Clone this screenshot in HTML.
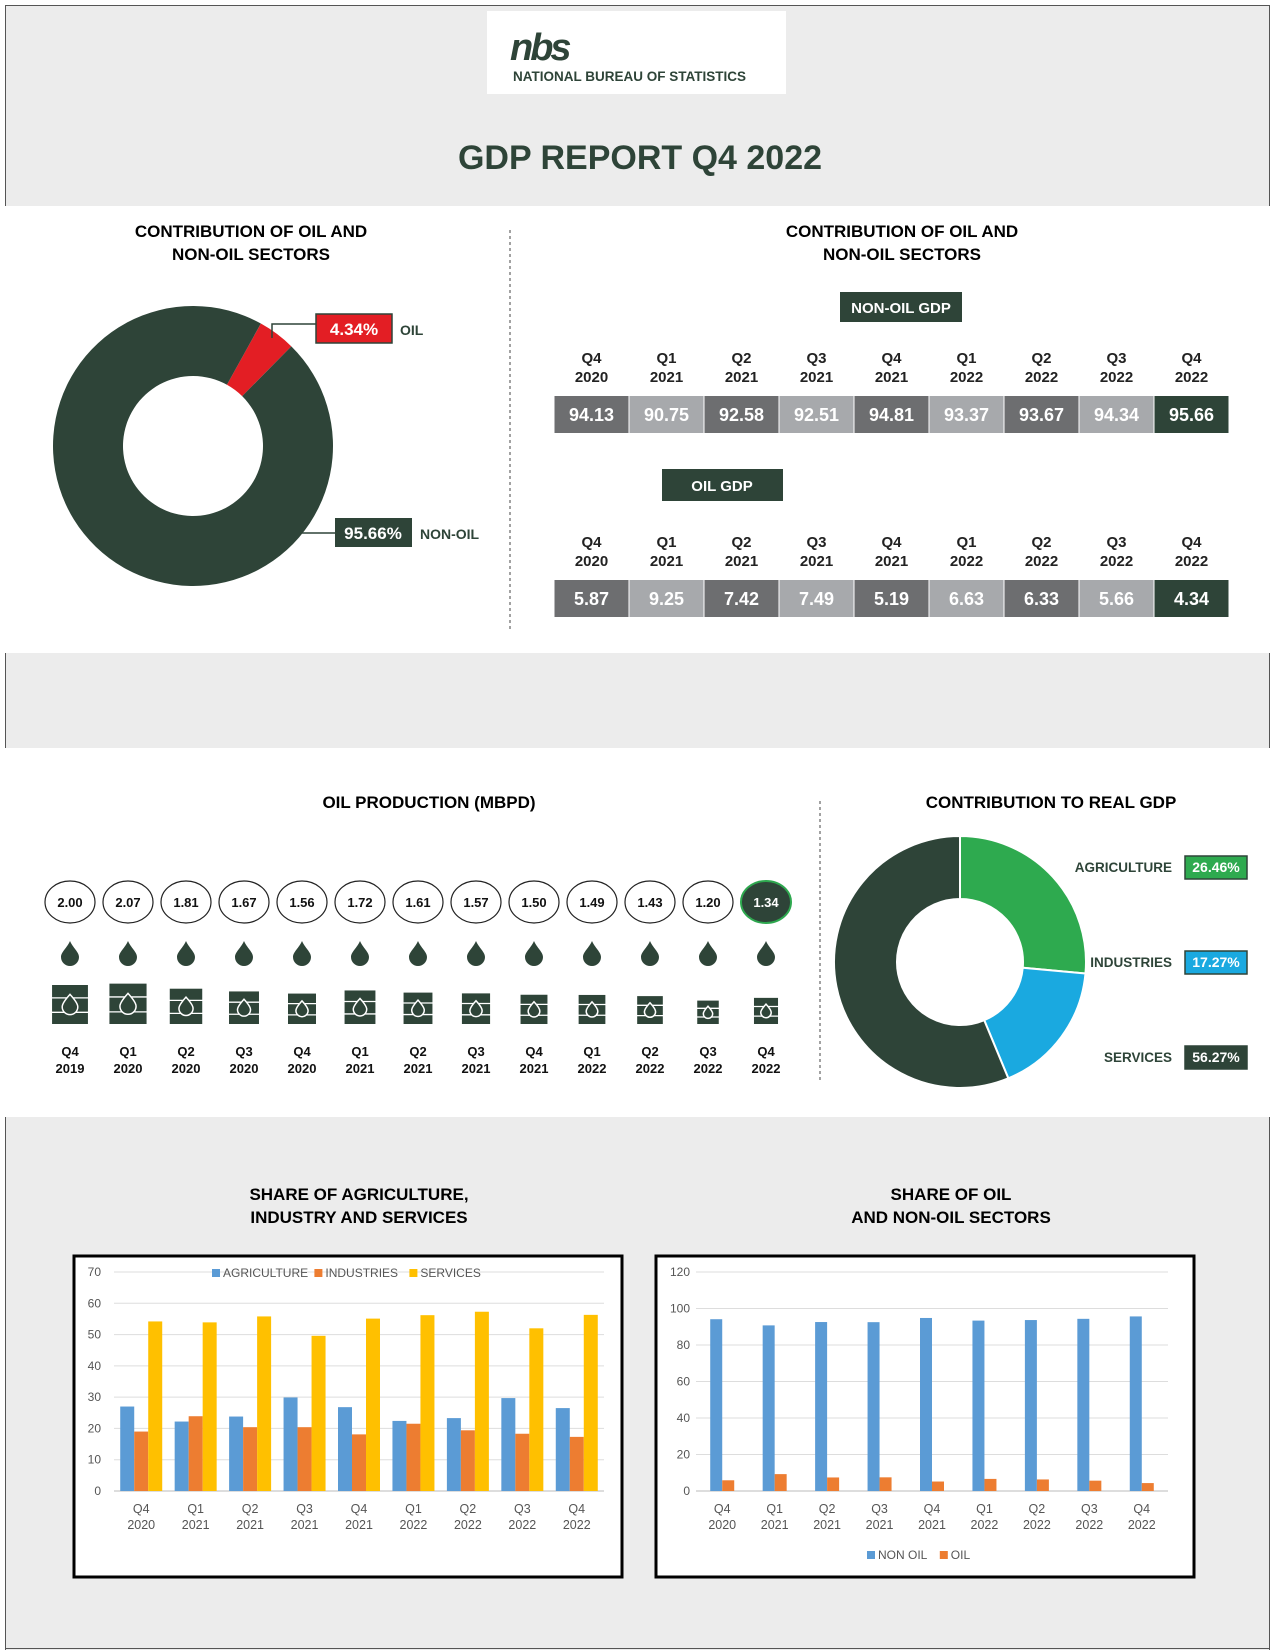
<!DOCTYPE html>
<html><head><meta charset="utf-8">
<style>
html,body{margin:0;padding:0;background:#fff;}
svg{display:block;font-family:"Liberation Sans",sans-serif;}
.b{font-weight:bold;}
</style></head>
<body>
<svg id="root" width="1275" height="1650" viewBox="0 0 1275 1650" xmlns="http://www.w3.org/2000/svg">
<!-- header band -->
<rect x="5" y="5" width="1265" height="201" fill="#ececec"/>
<line x1="5.5" y1="5" x2="5.5" y2="206" stroke="#555"/>
<line x1="1269.5" y1="5" x2="1269.5" y2="206" stroke="#555"/>
<line x1="5" y1="5.5" x2="1270" y2="5.5" stroke="#555"/>
<rect x="487" y="11" width="299" height="83" fill="#fff"/>
<g>
<text x="510" y="60" font-size="38" font-weight="bold" fill="#2e4438" font-style="italic" letter-spacing="-3">nbs</text>
<text x="513" y="81" font-size="13.5" font-weight="bold" fill="#2e4438">NATIONAL BUREAU OF STATISTICS</text>
</g>
<text x="640" y="169" font-size="34" font-weight="bold" fill="#2e4438" text-anchor="middle">GDP REPORT Q4 2022</text>

<!-- section 1 -->
<g>
<text x="251" y="237" font-size="17" class="b" text-anchor="middle">CONTRIBUTION OF OIL AND</text>
<text x="251" y="260" font-size="17" class="b" text-anchor="middle">NON-OIL SECTORS</text>
</g>
<line x1="510" y1="230" x2="510" y2="630" stroke="#444" stroke-dasharray="3,3"/>
<g id="donut1"></g>
<g>
<polyline points="272,338 272,324 316,324" fill="none" stroke="#2e4438" stroke-width="1.5"/>
<rect x="316" y="314" width="76" height="29" fill="#e31e24" stroke="#2e4438" stroke-width="1.5"/>
<text x="354" y="335" font-size="17" class="b" fill="#fff" text-anchor="middle">4.34%</text>
<text x="400" y="335" font-size="14" class="b" fill="#2e4438">OIL</text>
</g>
<g>
<line x1="297" y1="533" x2="335" y2="533" stroke="#2e4438" stroke-width="1.5"/>
<rect x="335" y="518" width="77" height="29" fill="#2e4438"/>
<text x="373" y="539" font-size="17" class="b" fill="#fff" text-anchor="middle">95.66%</text>
<text x="420" y="539" font-size="14" class="b" fill="#2e4438">NON-OIL</text>
</g>

<g>
<text x="902" y="237" font-size="17" class="b" text-anchor="middle">CONTRIBUTION OF OIL AND</text>
<text x="902" y="260" font-size="17" class="b" text-anchor="middle">NON-OIL SECTORS</text>
</g>
<g>
<rect x="840" y="292" width="122" height="30" fill="#2e4438"/>
<text x="901" y="313" font-size="15" class="b" fill="#fff" text-anchor="middle">NON-OIL GDP</text>
</g>
<g id="table1"></g>
<g>
<rect x="662" y="469" width="121" height="32" fill="#2e4438"/>
<text x="722" y="491" font-size="15" class="b" fill="#fff" text-anchor="middle">OIL GDP</text>
</g>
<g id="table2"></g>

<!-- gray band -->
<rect x="5" y="653" width="1265" height="95" fill="#ececec"/>
<line x1="5.5" y1="653" x2="5.5" y2="748" stroke="#555"/>
<line x1="1269.5" y1="653" x2="1269.5" y2="748" stroke="#555"/>

<!-- section 2 -->
<text x="429" y="808" font-size="17" class="b" text-anchor="middle">OIL PRODUCTION (MBPD)</text>
<line x1="820" y1="801" x2="820" y2="1080" stroke="#444" stroke-dasharray="3,3"/>
<g id="prod"></g>
<text x="1051" y="808" font-size="17" class="b" text-anchor="middle">CONTRIBUTION TO REAL GDP</text>
<g id="donut2"></g>
<g id="donut2labels"></g>

<!-- section 3 -->
<rect x="5" y="1117" width="1265" height="533" fill="#ececec"/>
<line x1="5.5" y1="1117" x2="5.5" y2="1650" stroke="#555"/>
<line x1="1269.5" y1="1117" x2="1269.5" y2="1650" stroke="#555"/>
<line x1="5" y1="1648.5" x2="1270" y2="1648.5" stroke="#555"/>
<g>
<text x="359" y="1200" font-size="17" class="b" text-anchor="middle">SHARE OF AGRICULTURE,</text>
<text x="359" y="1223" font-size="17" class="b" text-anchor="middle">INDUSTRY AND SERVICES</text>
</g>
<g>
<text x="951" y="1200" font-size="17" class="b" text-anchor="middle">SHARE OF OIL</text>
<text x="951" y="1223" font-size="17" class="b" text-anchor="middle">AND NON-OIL SECTORS</text>
</g>
<rect x="74" y="1256" width="548" height="321" fill="#fff" stroke="#000" stroke-width="3"/>
<rect x="656" y="1256" width="538" height="321" fill="#fff" stroke="#000" stroke-width="3"/>
<g id="chart3"></g>
<g id="chart4"></g>
</svg>
<script>
const NS="http://www.w3.org/2000/svg";
// ---- data ----
const quarters9=["Q4 2020","Q1 2021","Q2 2021","Q3 2021","Q4 2021","Q1 2022","Q2 2022","Q3 2022","Q4 2022"];
const nonOilGdp=[94.13,90.75,92.58,92.51,94.81,93.37,93.67,94.34,95.66];
const oilGdp=[5.87,9.25,7.42,7.49,5.19,6.63,6.33,5.66,4.34];
const oilShareLatest=[4.34,95.66];
const prodQuarters=["Q4 2019","Q1 2020","Q2 2020","Q3 2020","Q4 2020","Q1 2021","Q2 2021","Q3 2021","Q4 2021","Q1 2022","Q2 2022","Q3 2022","Q4 2022"];
const prodValues=[2.00,2.07,1.81,1.67,1.56,1.72,1.61,1.57,1.50,1.49,1.43,1.20,1.34];
const sectorNames=["AGRICULTURE","INDUSTRIES","SERVICES"];
const sectorShares=[26.46,17.27,56.27];
const agriculture=[27.0,22.2,23.8,29.9,26.8,22.4,23.3,29.7,26.5];
const industries=[19.0,23.9,20.4,20.4,18.1,21.5,19.4,18.3,17.3];
const services=[54.2,53.9,55.8,49.6,55.1,56.2,57.3,52.0,56.3];
const ticks3=[0,10,20,30,40,50,60,70];
const ticks4=[0,20,40,60,80,100,120];

function mk(tag,attrs,parent,txt){const e=document.createElementNS(NS,tag);for(const k in attrs)e.setAttribute(k,attrs[k]);if(txt!==undefined)e.textContent=txt;parent.appendChild(e);return e;}
function arcPath(cx,cy,r0,r1,a0,a1){
 const p=(r,a)=>[cx+r*Math.sin(a*Math.PI/180),cy-r*Math.cos(a*Math.PI/180)];
 const L=(a1-a0)>180?1:0;const A=p(r1,a0),B=p(r1,a1),C=p(r0,a1),D=p(r0,a0);
 return `M${A}A${r1},${r1} 0 ${L} 1 ${B}L${C}A${r0},${r0} 0 ${L} 0 ${D}Z`;}

// donut 1
(function(){const g=document.getElementById('donut1');const cols=["#e31e24","#2e4438"];
 let a=29;const tot=oilShareLatest.reduce((s,v)=>s+v,0);
 oilShareLatest.forEach((v,i)=>{const span=v/tot*360;const e=mk('path',{d:arcPath(193,446,70,140,a,a+span-0.01),fill:cols[i]},g);
 
 a+=span;});})();

// tables
function table(id,vals,hy,cy){const g=document.getElementById(id);const x0=554,w=75;
 vals.forEach((v,i)=>{const x=x0+i*w;const q=quarters9[i].split(' ');
 const t=mk('text',{x:x+w/2,y:hy,'font-size':15,'font-weight':'bold','text-anchor':'middle',fill:'#222'},g);
 
 
 mk('tspan',{x:x+w/2},t,q[0]);mk('tspan',{x:x+w/2,dy:19},t,q[1]);
 const fill=i==vals.length-1?'#2e4438':(i%2==0?'#6d6e70':'#a7a9ac');
 const r=mk('rect',{x:x+0.5,y:cy,width:w-1,height:37,fill:fill},g);
 
 
 const tv=mk('text',{x:x+w/2,y:cy+25,'font-size':18,'font-weight':'bold','text-anchor':'middle',fill:'#fff'},g,v.toFixed(2));
 
 });}
table('table1',nonOilGdp,363,396);
table('table2',oilGdp,547,580);

// production
(function(){const g=document.getElementById('prod');const xs0=70,dx=58.0;
 prodValues.forEach((v,i)=>{const cx=xs0+i*dx;const last=i==prodValues.length-1;
 const c=mk('ellipse',{cx:cx,cy:902,rx:25,ry:21,fill:last?'#2e4438':'#fff',stroke:last?'#2ea84f':'#222','stroke-width':last?2:1.2},g);
 
 
 const t=mk('text',{x:cx,y:907,'font-size':13,'font-weight':'bold','text-anchor':'middle',fill:last?'#fff':'#111'},g,v.toFixed(2));
 
 
 const d=mk('path',{d:`M${cx},941 C${cx+3},948 ${cx+9},952 ${cx+9},957 A9,9 0 0 1 ${cx-9},957 C${cx-9},952 ${cx-3},948 ${cx},941Z`,fill:'#2e4438'},g);
 
 
 const h=v*19.5,w=h*0.92,by=1024,ty=by-h;
 const bg=mk('g',{},g);
 
 
 mk('rect',{x:cx-w/2,y:ty,width:w,height:h,fill:'#2e4438'},bg);
 mk('line',{x1:cx-w/2-2,y1:ty+h*0.33,x2:cx+w/2+2,y2:ty+h*0.33,stroke:'#fff','stroke-width':1.3},bg);
 mk('line',{x1:cx-w/2-2,y1:ty+h*0.7,x2:cx+w/2+2,y2:ty+h*0.7,stroke:'#fff','stroke-width':1.3},bg);
 const r=h*0.2,my=ty+h*0.52;
 mk('path',{d:`M${cx},${my-r*1.4} Q${cx+r},${my-r*0.3} ${cx+r},${my+r*0.2} A${r},${r} 0 0 1 ${cx-r},${my+r*0.2} Q${cx-r},${my-r*0.3} ${cx},${my-r*1.4}Z`,fill:'#2e4438',stroke:'#fff','stroke-width':1.5},bg);
 const q=prodQuarters[i].split(' ');
 const l=mk('text',{x:cx,y:1056,'font-size':13,'font-weight':'bold','text-anchor':'middle',fill:'#111'},g);
 
 
 mk('tspan',{x:cx},l,q[0]);mk('tspan',{x:cx,dy:17},l,q[1]);});})();

// donut 2
(function(){const g=document.getElementById('donut2');const lg=document.getElementById('donut2labels');
 const cols=["#2eaa4f","#1aa9e0","#2e4438"];const ys=[867,962,1057];
 let a=0;sectorShares.forEach((v,i)=>{const span=v/100*360;
 const p=mk('path',{d:arcPath(960,962,63,126,a,a+span),fill:cols[i],stroke:'#fff','stroke-width':2},g);
 
 a+=span;
 const t=mk('text',{x:1172,y:ys[i]+5,'font-size':13.5,'font-weight':'bold','text-anchor':'end',fill:'#2e4438'},lg,sectorNames[i]);
 
 
 const r=mk('rect',{x:1185,y:ys[i]-11,width:62,height:23,fill:cols[i],stroke:'#2e4438','stroke-width':1.5},lg);
 
 
 const tv=mk('text',{x:1216,y:ys[i]+5,'font-size':14,'font-weight':'bold','text-anchor':'middle',fill:'#fff'},lg,v.toFixed(2)+'%');
 
 });})();

// bar charts
function barChart(id,series,cols,ticks,max,x0,x1,y0,y1,bw,lbx,legendNames,legX,legY){
 const g=document.getElementById(id);const ys=v=>y0-(v/max)*(y0-y1);
 ticks.forEach(t=>{const l=mk('line',{x1:x0,x2:x1,y1:ys(t),y2:ys(t),stroke:t==0?'#bbb':'#ddd'},g);
 
 
 const tx=mk('text',{x:lbx,y:ys(t)+4,'font-size':12,'text-anchor':'end',fill:'#555'},g,t);
 
 });
 const n=quarters9.length,gw=(x1-x0)/n;
 quarters9.forEach((q,i)=>{const cx=x0+gw*(i+0.5);const ns=series.length;
 series.forEach((s,j)=>{const bx=cx-ns*bw/2+j*bw;const r=mk('rect',{x:bx,y:ys(s[i]),width:bw,height:y0-ys(s[i]),fill:cols[j]},g);
 
 });
 const p=q.split(' ');const t=mk('text',{x:cx,y:y0+22,'font-size':12.5,'text-anchor':'middle',fill:'#555'},g);
 
 
 mk('tspan',{x:cx},t,p[0]);mk('tspan',{x:cx,dy:16},t,p[1]);});
 let lx=legX;legendNames.forEach((nm,j)=>{const r=mk('rect',{x:lx,y:legY-8,width:8,height:8,fill:cols[j]},g);
 
 
 const t=mk('text',{x:lx+11,y:legY,'font-size':12,fill:'#555'},g,nm);
 
 
 lx+=11+nm.length*7.4+10;});}
barChart('chart3',[agriculture,industries,services],['#5b9bd5','#ed7d31','#ffc000'],ticks3,70,114,604,1491,1272,14,101,['AGRICULTURE','INDUSTRIES','SERVICES'],212,1277);
barChart('chart4',[nonOilGdp,oilGdp],['#5b9bd5','#ed7d31'],ticks4,120,696,1168,1491,1272,12,690,['NON OIL','OIL'],867,1559);
</script>
</body></html>
